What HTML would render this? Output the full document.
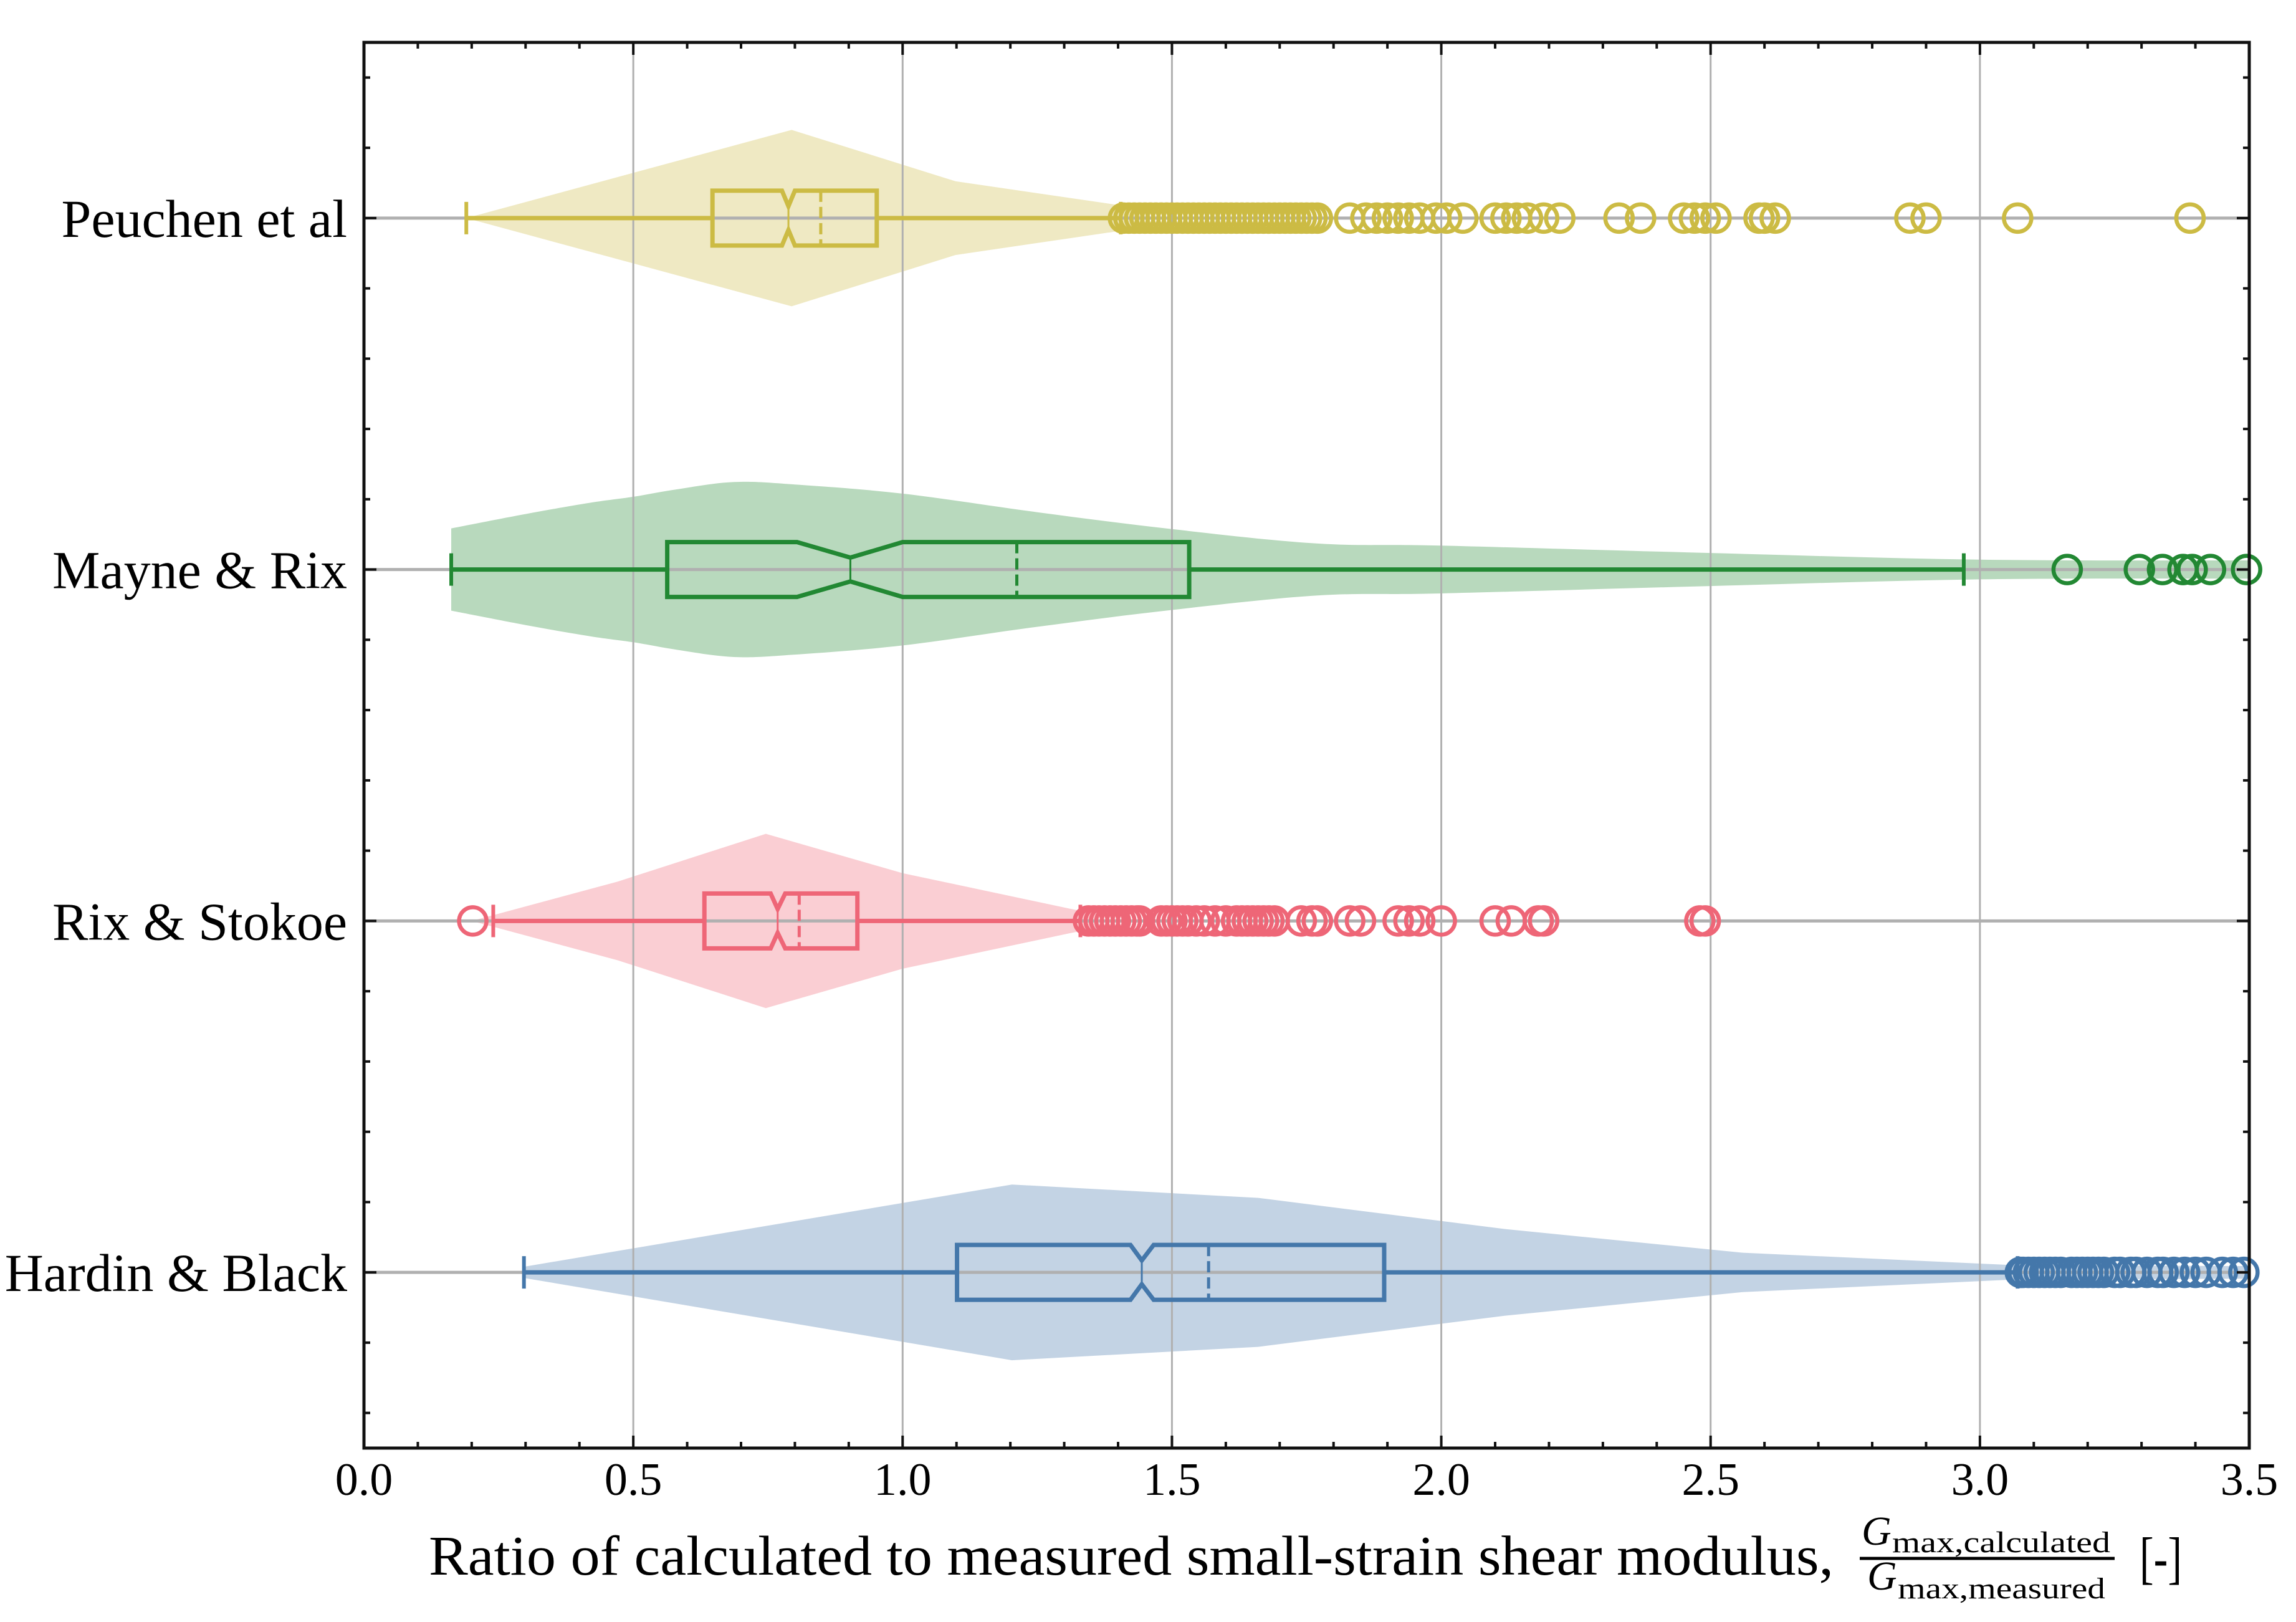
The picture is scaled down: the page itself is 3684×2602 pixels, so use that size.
<!DOCTYPE html>
<html><head><meta charset="utf-8"><title>Gmax ratio violin-box chart</title>
<style>html,body{margin:0;padding:0;background:#fff;}svg{display:block;}text{font-family:"Liberation Serif","DejaVu Serif",serif;fill:#000;}</style>
</head><body>
<svg id="chart" xmlns="http://www.w3.org/2000/svg" width="3684" height="2602" viewBox="0 0 3684 2602">
<rect x="0" y="0" width="3684" height="2602" fill="#fff"/>
<g id="layer-violin"></g>
<g id="layer-grid"></g>
<g id="layer-box"></g>
<g id="layer-axes"></g>
<g>
<text x="688" y="2526" font-size="90" textLength="2254" lengthAdjust="spacingAndGlyphs">Ratio of calculated to measured small-strain shear modulus,</text>
<text x="2987" y="2478" font-size="66" font-style="italic">G</text>
<text x="3036" y="2490" font-size="48" textLength="350" lengthAdjust="spacingAndGlyphs">max,calculated</text>
<line x1="2984" y1="2500" x2="3393" y2="2500" stroke="#000" stroke-width="5"/>
<text x="2996" y="2550" font-size="66" font-style="italic">G</text>
<text x="3045" y="2564" font-size="48" textLength="333" lengthAdjust="spacingAndGlyphs">max,measured</text>
<text x="3433" y="2530" font-size="92" textLength="68" lengthAdjust="spacingAndGlyphs">[-]</text>
</g>
</svg>
<script>
const categories = ["Hardin & Black", "Rix & Stokoe", "Mayne & Rix", "Peuchen et al"];
const seriesColors = ["#4477AA", "#EE6677", "#228833", "#CCBB44"];
const q1Values = [1.101, 0.632, 0.563, 0.647];
const q3Values = [1.894, 0.916, 1.532, 0.952];
const medianValues = [1.444, 0.768, 0.903, 0.788];
const notchLoValues = [1.423, 0.755, 0.804, 0.776];
const notchHiValues = [1.466, 0.782, 1.000, 0.800];
const meanValues = [1.568, 0.808, 1.212, 0.848];
const whiskerLoValues = [0.297, 0.240, 0.162, 0.190];
const whiskerHiValues = [3.070, 1.330, 2.970, 1.405];
const outliersHardin = [3.075,3.08,3.09,3.10,3.11,3.12,3.13,3.14,3.15,3.17,3.18,3.19,3.20,3.21,3.22,3.23,3.25,3.26,3.28,3.29,3.31,3.33,3.34,3.36,3.38,3.40,3.42,3.45,3.47,3.49];
const outliersRix = [0.202,1.345,1.355,1.365,1.375,1.385,1.395,1.405,1.415,1.425,1.435,1.44,1.48,1.49,1.50,1.51,1.52,1.53,1.545,1.56,1.58,1.60,1.62,1.63,1.64,1.65,1.66,1.67,1.68,1.69,1.74,1.76,1.77,1.83,1.85,1.92,1.94,1.96,2.00,2.10,2.13,2.18,2.19,2.48,2.49];
const outliersMayne = [3.162,3.296,3.339,3.377,3.394,3.428,3.495];
const outliersPeuchen = [1.41,1.42,1.43,1.44,1.45,1.46,1.47,1.48,1.49,1.50,1.51,1.52,1.53,1.54,1.55,1.56,1.57,1.58,1.59,1.60,1.61,1.62,1.63,1.64,1.65,1.66,1.67,1.68,1.69,1.70,1.71,1.72,1.73,1.74,1.75,1.76,1.77,1.83,1.86,1.88,1.90,1.92,1.94,1.96,1.99,2.01,2.04,2.10,2.12,2.14,2.16,2.19,2.22,2.33,2.37,2.45,2.47,2.49,2.51,2.59,2.60,2.62,2.87,2.90,3.07,3.39];
const violinXHardin = [0.297,1.203,1.66,2.12,2.56,3.07,3.5];
const violinWHardin = [0.016,0.25,0.212,0.123,0.056,0.02,0.018];
const violinXRix = [0.20,0.471,0.746,1.0,1.31,1.36];
const violinWRix = [0.0,0.112,0.248,0.136,0.035,0.02];
const violinXMayne = [0.162,0.30,0.42,0.5,0.58,0.687,0.8,1.0,1.25,1.5,1.77,2.0,2.5,3.0,3.5];
const violinWMayne = [0.117,0.158,0.19,0.207,0.228,0.249,0.242,0.216,0.163,0.115,0.074,0.068,0.047,0.028,0.026];
const violinXPeuchen = [0.19,0.794,1.098,1.41,1.45];
const violinWPeuchen = [0.0,0.251,0.105,0.035,0.02];
const xTickLabels = ["0.0","0.5","1.0","1.5","2.0","2.5","3.0","3.5"];

const outlierSets = [outliersHardin, outliersRix, outliersMayne, outliersPeuchen];
const violinXs = [violinXHardin, violinXRix, violinXMayne, violinXPeuchen];
const violinWs = [violinWHardin, violinWRix, violinWMayne, violinWPeuchen];
const violinSmooth = [false, false, true, false];
const seriesKeys = ["hardin-black","rix-stokoe","mayne-rix","peuchen"];

const L = 584, R = 3609, T = 68, B = 2323;
const X_MIN = 0, X_MAX = 3.5, Y_MIN = 0.5, Y_MAX = 4.5;
function xs(v){ return L + (v - X_MIN) / (X_MAX - X_MIN) * (R - L); }
function ys(p){ return B - (p - Y_MIN) / (Y_MAX - Y_MIN) * (B - T); }
function yd(w){ return w / (Y_MAX - Y_MIN) * (B - T); }
const NS = "http://www.w3.org/2000/svg";
function mk(tag, attrs, parent){ const e = document.createElementNS(NS, tag); for (const k in attrs) e.setAttribute(k, attrs[k]); parent.appendChild(e); return e; }
function smoothSeg(pts){
  let d = '';
  for (let k = 0; k < pts.length - 1; k++) {
    const p0 = pts[Math.max(k-1,0)], p1 = pts[k], p2 = pts[k+1], p3 = pts[Math.min(k+2,pts.length-1)];
    const c1x = p1[0] + (p2[0]-p0[0])/6, c1y = p1[1] + (p2[1]-p0[1])/6;
    const c2x = p2[0] - (p3[0]-p1[0])/6, c2y = p2[1] - (p3[1]-p1[1])/6;
    d += ` C${c1x.toFixed(1)},${c1y.toFixed(1)} ${c2x.toFixed(1)},${c2y.toFixed(1)} ${p2[0].toFixed(1)},${p2[1].toFixed(1)}`;
  }
  return d;
}

const gV = document.getElementById('layer-violin');
const gG = document.getElementById('layer-grid');
const gB = document.getElementById('layer-box');
const gA = document.getElementById('layer-axes');

for (let i = 0; i < categories.length; i++) {
  const cy = ys(i + 1);
  const xsArr = violinXs[i], wsArr = violinWs[i];
  const top = [], bot = [];
  for (let k = 0; k < xsArr.length; k++) { top.push([xs(xsArr[k]), cy - yd(wsArr[k])]); }
  for (let k = xsArr.length - 1; k >= 0; k--) { bot.push([xs(xsArr[k]), cy + yd(wsArr[k])]); }
  let d;
  if (violinSmooth[i]) {
    d = `M${top[0][0]},${top[0][1]}` + smoothSeg(top) + ` L${bot[0][0]},${bot[0][1]}` + smoothSeg(bot) + ' Z';
  } else {
    d = 'M' + top.concat(bot).map(p => p[0].toFixed(1) + ',' + p[1].toFixed(1)).join(' L') + ' Z';
  }
  const p = mk('path', {d: d, fill: seriesColors[i], 'fill-opacity': 0.32}, gV);
  
  
}

for (let t = 0.5; t < X_MAX; t += 0.5) {
  const l = mk('line', {x1: xs(t), y1: T, x2: xs(t), y2: B, stroke: '#b0b0b0', 'stroke-width': 3}, gG);
  
  
}
for (let i = 0; i < categories.length; i++) {
  const l = mk('line', {x1: L, y1: ys(i + 1), x2: R, y2: ys(i + 1), stroke: '#b0b0b0', 'stroke-width': 5}, gG);
  
  
}

const BH = 44, CAP = 26;
for (let i = 0; i < categories.length; i++) {
  const c = seriesColors[i], cy = ys(i + 1);
  const g = mk('g', {}, gB);
  
  
  const a = xs(q1Values[i]), b = xs(q3Values[i]), m = xs(medianValues[i]);
  const nl = xs(notchLoValues[i]), nh = xs(notchHiValues[i]);
  const wl = mk('line', {x1: xs(whiskerLoValues[i]), y1: cy, x2: a, y2: cy, stroke: c, 'stroke-width': 7}, g);
  
  
  const wh = mk('line', {x1: b, y1: cy, x2: xs(whiskerHiValues[i]), y2: cy, stroke: c, 'stroke-width': 7}, g);
  
  
  const cl = mk('line', {x1: xs(whiskerLoValues[i]), y1: cy - CAP, x2: xs(whiskerLoValues[i]), y2: cy + CAP, stroke: c, 'stroke-width': 6}, g);
  
  
  const ch = mk('line', {x1: xs(whiskerHiValues[i]), y1: cy - CAP, x2: xs(whiskerHiValues[i]), y2: cy + CAP, stroke: c, 'stroke-width': 6}, g);
  
  
  const d = `M${a},${cy-BH} L${nl},${cy-BH} L${m},${cy-BH/2.3} L${nh},${cy-BH} L${b},${cy-BH} L${b},${cy+BH} L${nh},${cy+BH} L${m},${cy+BH/2.3} L${nl},${cy+BH} L${a},${cy+BH} Z`;
  const bx = mk('path', {d: d, fill: 'none', stroke: c, 'stroke-width': 7, 'stroke-linejoin': 'miter'}, g);
  
  
  const md = mk('line', {x1: m, y1: cy - BH/2.3, x2: m, y2: cy + BH/2.3, stroke: c, 'stroke-width': 3}, g);
  
  
  const mn = mk('line', {x1: xs(meanValues[i]), y1: cy - BH, x2: xs(meanValues[i]), y2: cy + BH, stroke: c, 'stroke-width': 5, 'stroke-dasharray': '18,8'}, g);
  
  
  const outs = outlierSets[i];
  for (let k = 0; k < outs.length; k++) {
    const o = mk('circle', {cx: xs(outs[k]), cy: cy, r: 22, fill: 'none', stroke: c, 'stroke-width': 6.5}, g);
    
    
  }
}

const fr = mk('rect', {x: L, y: T, width: R - L, height: B - T, fill: 'none', stroke: '#111', 'stroke-width': 5}, gA);


for (let k = 0; k <= 35; k++) {
  const v = k / 10, x = xs(v), major = (k % 5 === 0);
  const len = major ? 20 : 10;
  const t1 = mk('line', {x1: x, y1: B, x2: x, y2: B - len, stroke: '#111', 'stroke-width': 4}, gA);
  
  
  const t2 = mk('line', {x1: x, y1: T, x2: x, y2: T + len, stroke: '#111', 'stroke-width': 4}, gA);
  
  
}
for (let k = 0; k < xTickLabels.length; k++) {
  const tx = mk('text', {x: xs(k * 0.5), y: 2398, 'font-size': 74, 'text-anchor': 'middle'}, gA);
  tx.textContent = xTickLabels[k];
  
  
}
for (let k = 3; k <= 22; k++) {
  const p = k / 5, y = ys(p), major = (k % 5 === 0);
  const len = major ? 20 : 10;
  const t1 = mk('line', {x1: L, y1: y, x2: L + len, y2: y, stroke: '#111', 'stroke-width': 4}, gA);
  
  
  const t2 = mk('line', {x1: R, y1: y, x2: R - len, y2: y, stroke: '#111', 'stroke-width': 4}, gA);
  
  
}
for (let i = 0; i < categories.length; i++) {
  const tx = mk('text', {x: 557, y: ys(i + 1) + 30, 'font-size': 86, 'text-anchor': 'end'}, gA);
  tx.textContent = categories[i];
  
  
}
</script>
</body></html>
